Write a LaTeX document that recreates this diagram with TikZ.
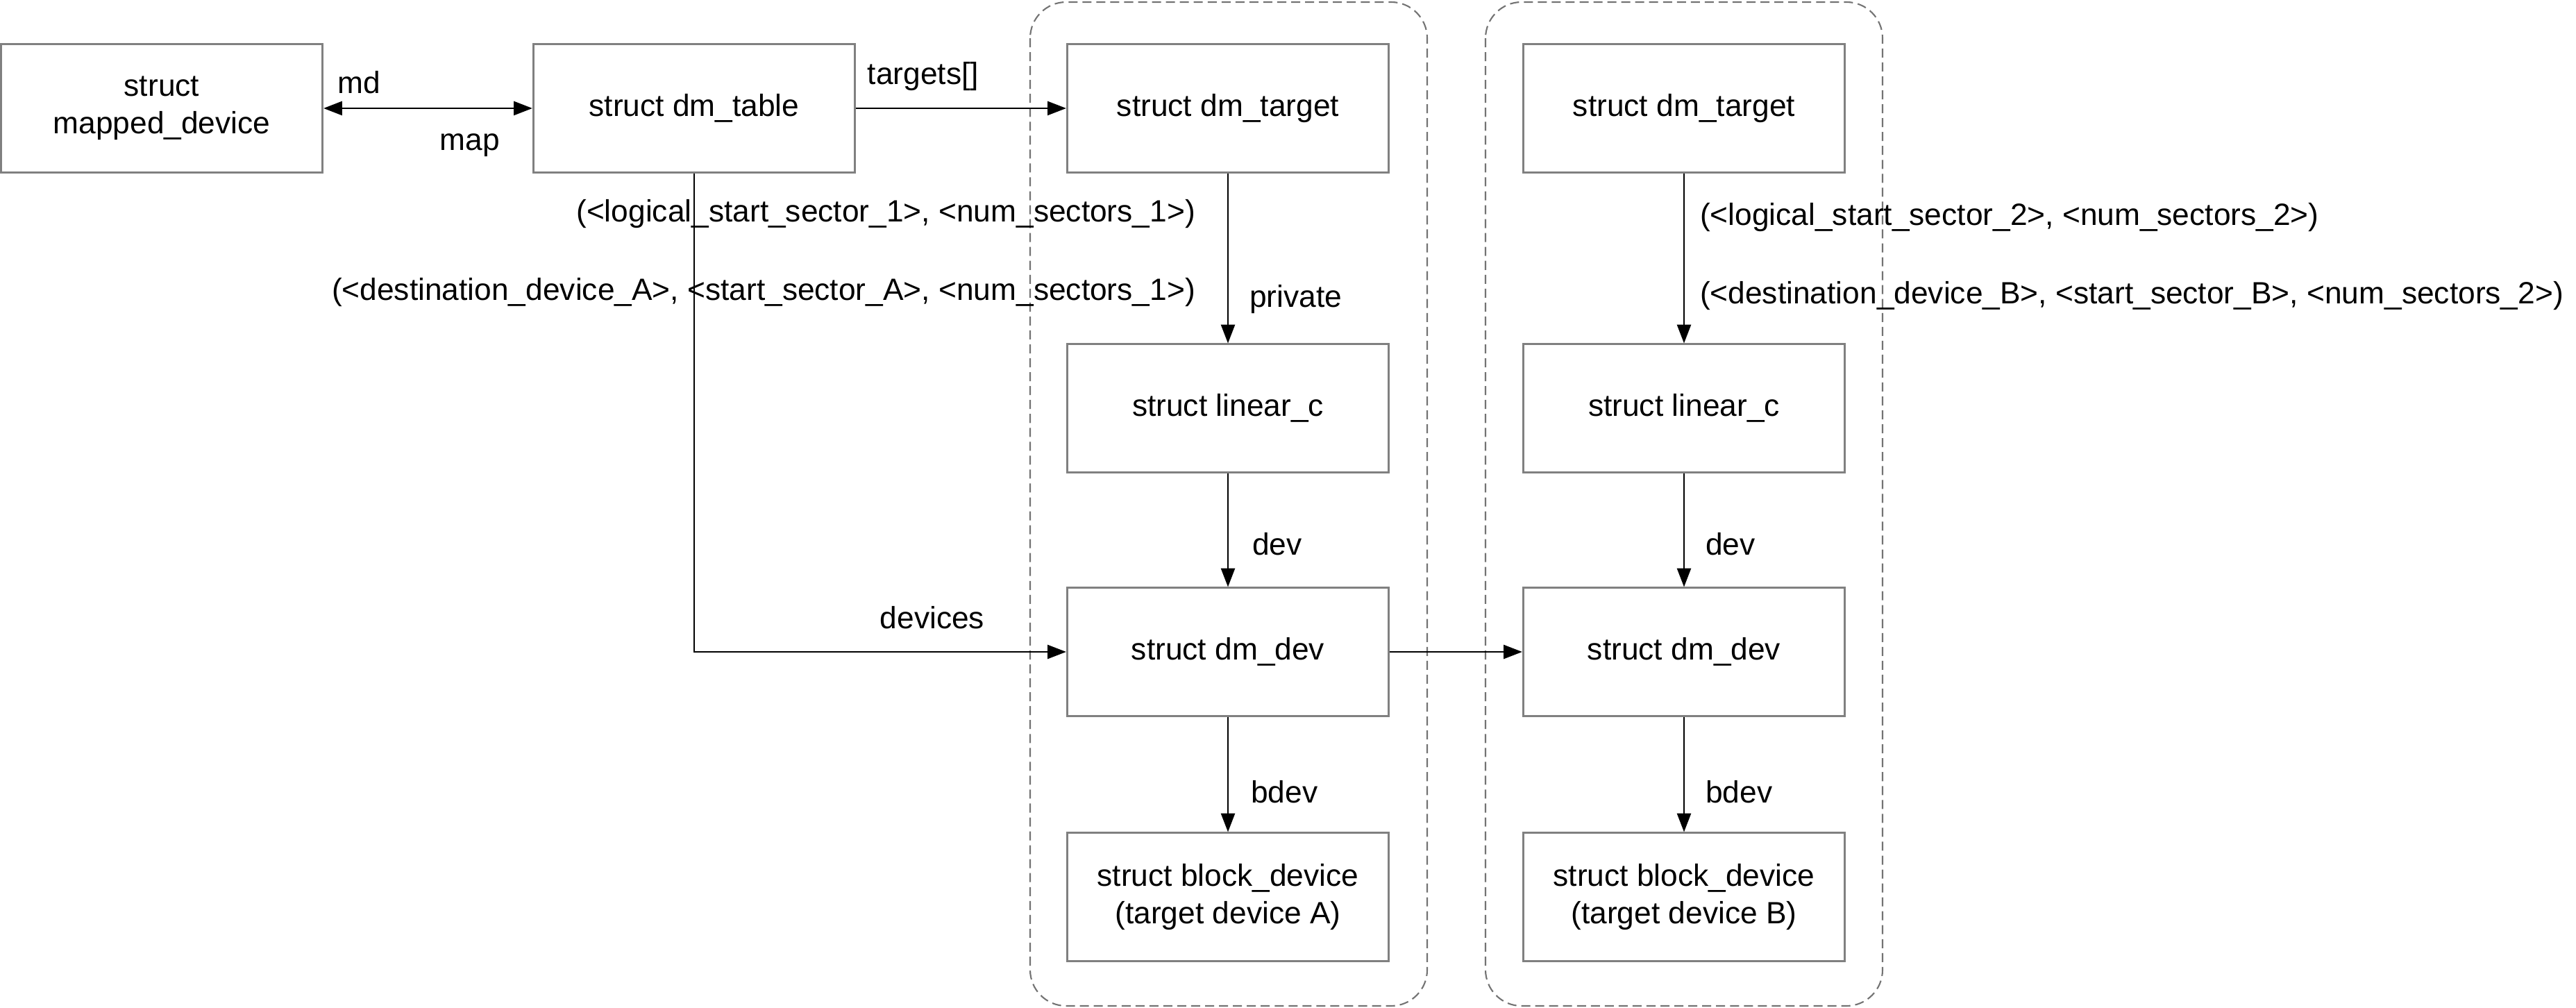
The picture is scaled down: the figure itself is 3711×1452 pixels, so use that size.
\documentclass[tikz,border=0pt]{standalone}
\usepackage{fontspec}
\setmainfont{Liberation Sans}
\usetikzlibrary{arrows.meta,positioning}
\tikzset{
  box/.style={draw=black!50, line width=0.85pt, minimum width=4.63cm, minimum height=1.84cm, align=center, inner sep=0pt, font=\fontsize{12.6}{15.2}\selectfont},
  lbl/.style={font=\fontsize{12.6}{15.2}\selectfont, inner sep=0pt},
  arr/.style={-{Triangle[length=7.6pt,width=5.7pt]}, line width=0.6pt},
  dblarr/.style={{Triangle[length=7.6pt,width=5.7pt]}-{Triangle[length=7.6pt,width=5.7pt]}, line width=0.7pt},
  grp/.style={draw=black!55, dash pattern=on 3.7pt off 2pt, line width=0.6pt, rounded corners=0.52cm}
}
\begin{document}
\begin{tikzpicture}[x=0.01cm,y=-0.01cm]
	\useasboundingbox (0,0) rectangle (3711,1452);
	% the two target groups
	\draw[grp] (1484,3) rectangle (2056,1449);
	\draw[grp] (2140,3) rectangle (2712,1449);
	% structs
	\node[box] (mdev) at (233,156) {struct\\mapped\_device};
	\node[box] (tbl) at (1000,156) {struct dm\_table};
	\node[box] (tgtA) at (1769,156) {struct dm\_target};
	\node[box] (linA) at (1769,588) {struct linear\_c};
	\node[box] (devA) at (1769,939) {struct dm\_dev};
	\node[box] (bdA) at (1769,1292) {struct block\_device\\(target device A)};
	\node[box] (tgtB) at (2426,156) {struct dm\_target};
	\node[box] (linB) at (2426,588) {struct linear\_c};
	\node[box] (devB) at (2426,939) {struct dm\_dev};
	\node[box] (bdB) at (2426,1292) {struct block\_device\\(target device B)};
	% pointers
	\draw[dblarr] (mdev) -- node[lbl,pos=0.17,yshift=0.37cm] {md} node[lbl,pos=0.70,yshift=-0.53cm] {map} (tbl);
	\draw[arr] (tbl) -- node[lbl,pos=0.32,yshift=0.46cm] {targets[]} (tgtA);
	\draw[arr] (tbl) |- node[lbl,pos=0.82,yshift=0.49cm] {devices} (devA);
	\draw[arr] (tgtA) -- node[lbl,pos=0.24,anchor=east,xshift=-0.46cm] {(<logical\_start\_sector\_1>, <num\_sectors\_1>)}
		node[lbl,pos=0.70,anchor=east,xshift=-0.46cm] {(<destination\_device\_A>, <start\_sector\_A>, <num\_sectors\_1>)}
		node[lbl,pos=0.74,anchor=west,xshift=0.30cm] {private} (linA);
	\draw[arr] (linA) -- node[lbl,pos=0.62,anchor=west,xshift=0.34cm] {dev} (devA);
	\draw[arr] (devA) -- node[lbl,pos=0.65,anchor=west,xshift=0.32cm] {bdev} (bdA);
	\draw[arr] (devA) -- (devB);
	\draw[arr] (tgtB) -- node[lbl,pos=0.26,anchor=west,xshift=0.22cm] {(<logical\_start\_sector\_2>, <num\_sectors\_2>)}
		node[lbl,pos=0.72,anchor=west,xshift=0.22cm] {(<destination\_device\_B>, <start\_sector\_B>, <num\_sectors\_2>)} (linB);
	\draw[arr] (linB) -- node[lbl,pos=0.62,anchor=west,xshift=0.3cm] {dev} (devB);
	\draw[arr] (devB) -- node[lbl,pos=0.65,anchor=west,xshift=0.3cm] {bdev} (bdB);
\end{tikzpicture}
\end{document}
